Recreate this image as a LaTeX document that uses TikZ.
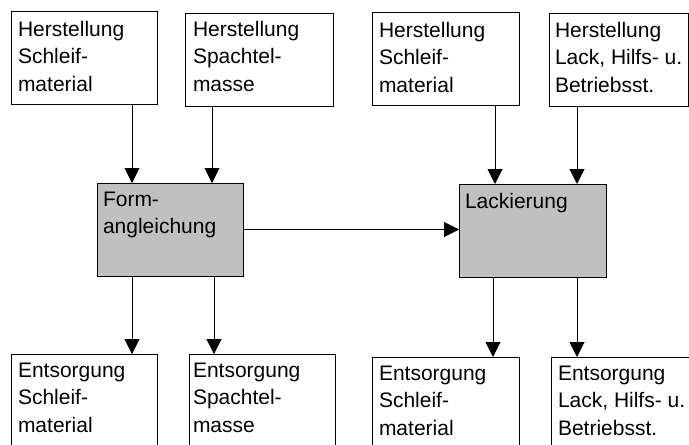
\documentclass[tikz,border=0pt]{standalone}
\usepackage{fontspec}
\setmainfont{Liberation Sans}
\usetikzlibrary{arrows.meta}
\definecolor{procgray}{HTML}{C0C0C0}
\begin{document}
\begin{tikzpicture}[x=1pt,y=-1pt,
  box/.style={draw=black, line width=1pt, fill=white, inner sep=0pt, outer sep=0pt,
              anchor=north west, minimum width=146pt, minimum height=93pt},
  proc/.style={box, fill=procgray},
  lbl/.style={anchor=north west, inner sep=0pt, outer sep=0pt, align=left,
              font=\fontsize{21}{27.5}\selectfont},
  arr/.style={line width=1pt, -{Triangle[width=15pt,length=15pt]}}]
\clip (0,0) rectangle (689,445);
\fill[white] (0,0) rectangle (689,445);

% supply processes (top row)
\node[box] (T1) at (11,11) {};
\node[box, minimum width=148pt] (T2) at (185,13) {};
\node[box, minimum width=147pt] (T3) at (372,12) {};
\node[box, minimum width=139pt] (T4) at (549,13) {};

% main processes
\node[proc] (F) at (97,183) {};
\node[proc, minimum width=147pt] (L) at (459,184) {};

% disposal processes (bottom row, running off the page)
\node[box, minimum height=120pt] (B1) at (11,354) {};
\node[box, minimum height=120pt] (B2) at (189,354) {};
\node[box, minimum width=147pt, minimum height=120pt] (B3) at (372,357) {};
\node[box, minimum width=160pt, minimum height=120pt] (B4) at (551,357) {};

% labels
\node[lbl] (t1) at (18,21) {Herstellung\\Schleif-\\material};
\node[lbl] (t2) at (193,21) {Herstellung\\Spachtel-\\masse};
\node[lbl] (t3) at (379,22) {Herstellung\\Schleif-\\material};
\node[lbl] (t4) at (555,22) {Herstellung\\Lack, Hilfs- u.\\Betriebsst.};
\node[lbl] (tf) at (103,192) {Form-\\angleichung};
\node[lbl] (tl) at (465,193) {Lackierung};
\node[lbl] (b1) at (18,363) {Entsorgung\\Schleif-\\material};
\node[lbl] (b2) at (193,363) {Entsorgung\\Spachtel-\\masse};
\node[lbl] (b3) at (379,366) {Entsorgung\\Schleif-\\material};
\node[lbl] (b4) at (558,366) {Entsorgung\\Lack, Hilfs- u.\\Betriebsst.};

% flows
\draw[arr] ([xshift=48pt]T1.south) -- ([xshift=48pt]T1.south |- F.north);
\draw[arr] ([xshift=-47pt]T2.south) -- ([xshift=-47pt]T2.south |- F.north);
\draw[arr] ([xshift=49.5pt]T3.south) -- ([xshift=49.5pt]T3.south |- L.north);
\draw[arr] ([xshift=-41.5pt]T4.south) -- ([xshift=-41.5pt]T4.south |- L.north);
\draw[arr] (F.east) -- (F.east -| L.west);
\draw[arr] ([xshift=-38pt]F.south) -- ([xshift=-38pt]F.south |- B1.north);
\draw[arr] ([xshift=44pt]F.south) -- ([xshift=44pt]F.south |- B2.north);
\draw[arr] ([xshift=-39.5pt]L.south) -- ([xshift=-39.5pt]L.south |- B3.north);
\draw[arr] ([xshift=44.5pt]L.south) -- ([xshift=44.5pt]L.south |- B4.north);
\end{tikzpicture}
\end{document}
